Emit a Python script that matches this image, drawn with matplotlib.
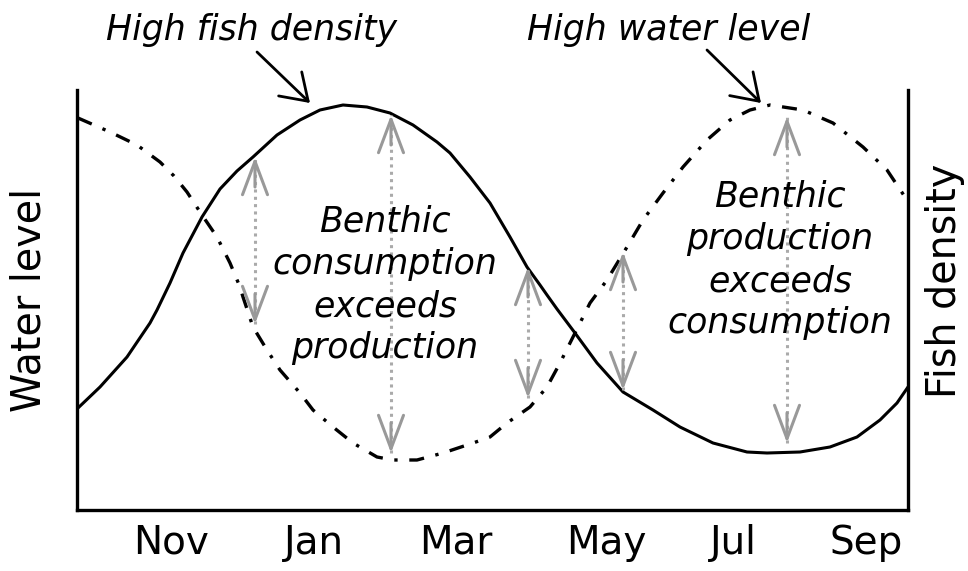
import matplotlib.pyplot as plt

# schematic axes: x and y in arbitrary units (x 0..831 over the year from Oct, y 0..420)
months = ['Nov', 'Jan', 'Mar', 'May', 'Jul', 'Sep']
month_pos = [94, 237, 379, 529, 656, 789]

fish_x = [1, 23, 50, 73, 80, 93, 106, 125, 143, 160, 176, 200, 223, 243, 266, 290, 313,
          336, 360, 373, 393, 413, 433, 450, 463, 470, 480, 498, 520, 546, 576, 603, 636,
          670, 690, 723, 753, 780, 803, 820, 831]
fish_y = [102, 123, 153, 187, 200, 227, 257, 293, 321, 339, 353, 375, 390, 400, 405, 403, 397,
          385, 368, 357, 333, 307, 273, 243, 225, 215, 201, 177, 147, 118, 100, 83, 67,
          58, 57, 58, 63, 73, 90, 107, 123]

water_x = [1, 33, 60, 83, 97, 110, 125, 140, 153, 163, 166, 176, 190, 203, 223, 236, 256, 276,
           300, 316, 340, 366, 396, 413, 430, 453, 470, 483, 498, 513, 530, 550, 566, 586,
           606, 630, 653, 673, 693, 726, 756, 786, 810, 830]
water_y = [392, 378, 365, 348, 334, 318, 295, 273, 247, 223, 213, 183, 160, 140, 117, 100, 83, 67,
           53, 50, 50, 57, 67, 73, 87, 103, 123, 147, 177, 207, 230, 263, 290, 317,
           343, 370, 390, 400, 405, 400, 387, 363, 340, 310]

# gray double arrows between the curves
arrow_x = [178, 314, 451, 546, 710]
arrow_top = [353, 395, 243, 258, 393]
arrow_bottom = [186, 57, 112, 120, 67]

fig = plt.figure(figsize=(9.68, 5.71), dpi=100)
ax = fig.add_axes([77/968, 61/571, 831/968, 420/571])

ax.plot(fish_x, fish_y, color='black', lw=2.2, solid_capstyle='round', solid_joinstyle='round')
ax.plot(water_x, water_y, color='black', lw=2.4, dashes=(4.5, 3.5, 1, 3.5))

for x, t, b in zip(arrow_x, arrow_top, arrow_bottom):
    ax.plot([x, x], [b, t], color='#aaaaaa', lw=2.2, ls=(0, (1, 1.4)))
    for tip, tail in [(t, t - 30), (b, b + 30)]:
        ax.annotate('', xy=(x, tip), xytext=(x, tail),
                    arrowprops=dict(arrowstyle='->,head_length=1.2,head_width=0.45',
                                    color='#999999', lw=2.2, mutation_scale=20,
                                    shrinkA=0, shrinkB=0))

# labels with black arrows
ax.text(175, 470, 'High fish density', fontsize=25, style='italic',
        ha='center', va='baseline', clip_on=False)
ax.annotate('', xy=(233, 407), xytext=(180, 458), annotation_clip=False,
            arrowprops=dict(arrowstyle='->,head_length=0.9,head_width=0.6',
                            color='black', lw=2, mutation_scale=20, shrinkA=0, shrinkB=0))
ax.text(592, 470, 'High water level', fontsize=25, style='italic',
        ha='center', va='baseline', clip_on=False)
ax.annotate('', xy=(684, 407), xytext=(630, 460), annotation_clip=False,
            arrowprops=dict(arrowstyle='->,head_length=0.9,head_width=0.6',
                            color='black', lw=2, mutation_scale=20, shrinkA=0, shrinkB=0))

ax.text(308, 225, 'Benthic\nconsumption\nexceeds\nproduction', fontsize=25,
        style='italic', ha='center', va='center', linespacing=1.3)
ax.text(703, 250, 'Benthic\nproduction\nexceeds\nconsumption', fontsize=25,
        style='italic', ha='center', va='center', linespacing=1.3)

ax.set_xlim(0, 831)
ax.set_ylim(0, 420)
ax.set_xticks(month_pos)
ax.set_xticklabels(months, fontsize=28)
ax.set_yticks([])
ax.tick_params(axis='x', length=0, pad=10)
ax.spines['top'].set_visible(False)
for s in ['left', 'right', 'bottom']:
    ax.spines[s].set_linewidth(2.4)

fig.text(30/968, 1 - 300/571, 'Water level', fontsize=28.5, rotation=90,
         ha='center', va='center')
fig.text(945/968, 1 - 281/571, 'Fish density', fontsize=28.5, rotation=90,
         ha='center', va='center')

plt.savefig('out.png', dpi=100)
